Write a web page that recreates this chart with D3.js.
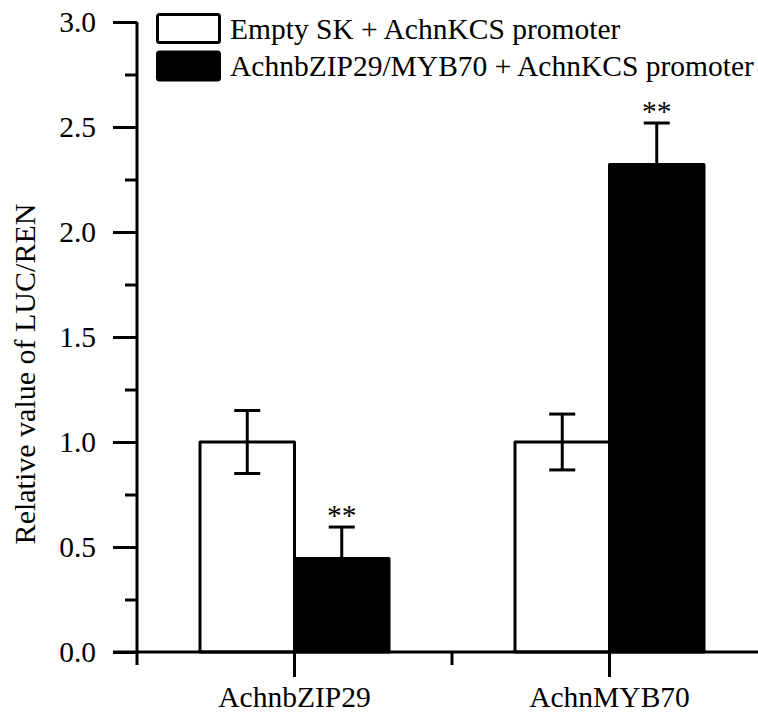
<!DOCTYPE html>
<html>
  <head>
    <meta charset="utf-8">
    <script src="https://d3js.org/d3.v7.min.js"></script>
    <title>LUC/REN bar chart</title>
    <style>
      body { margin: 0px; background: #fff; }
      text { font-family: "Liberation Serif", "Times New Roman", serif; fill: #000; }
      .tick line, .axis-line { stroke: #000; stroke-width: 3; }
      .tick text { font-size: 29.5px; }
    </style>
  </head>
  <body>
    <svg width="758" height="714"></svg>
    <script>
      // data
      const categories = ['AchnbZIP29', 'AchnMYB70'];
      const series = ['Empty SK + AchnKCS promoter', 'AchnbZIP29/MYB70 + AchnKCS promoter'];
      const seriesFill = ['#fff', '#000'];
      const emptyValues = [1.0, 1.0];
      const emptyErrors = [0.15, 0.133];
      const effectorValues = [0.445, 2.322];
      const effectorErrors = [0.15, 0.197];
      const signif = ['**', '**'];
      const yTicks = [0, 0.5, 1.0, 1.5, 2.0, 2.5, 3.0];
      const yMinorTicks = [0.25, 0.75, 1.25, 1.75, 2.25, 2.75];
      const yLabel = 'Relative value of LUC/REN';

      const svg = d3.select('svg');
      const width = +svg.attr('width');
      const margin = { left: 137, top: 22, bottom: 62 };
      const plotBottom = 652;

      const yScale = d3.scaleLinear().domain([0, 3]).range([plotBottom, margin.top]);
      const xScale = d3.scaleBand().domain(categories).range([margin.left, margin.left + 630]);
      const barW = 94.5;

      const data = [];
      categories.forEach((c, i) => {
        data.push({ cat: c, s: 0, v: emptyValues[i], e: emptyErrors[i] });
        data.push({ cat: c, s: 1, v: effectorValues[i], e: effectorErrors[i], star: signif[i] });
      });
      const subX = c => d3.scaleBand().domain([0, 1])
        .range([xScale(c) + xScale.bandwidth() / 2 - barW, xScale(c) + xScale.bandwidth() / 2 + barW]);

      // bars
      svg.append('g').selectAll('rect').data(data)
        .enter().append('rect')
          .attr('x', d => subX(d.cat)(d.s))
          .attr('y', d => yScale(d.v))
          .attr('width', barW)
          .attr('height', d => yScale(0) - yScale(d.v))
          .attr('fill', d => seriesFill[d.s])
          .attr('stroke', '#000')
          .attr('stroke-width', 3)
          .attr('stroke-linejoin', 'round');

      // error bars
      const errG = svg.append('g').attr('stroke', '#000').attr('stroke-width', 3);
      data.forEach(d => {
        const cx = subX(d.cat)(d.s) + barW / 2;
        const lo = d.s === 0 ? d.v - d.e : d.v;
        errG.append('line')
          .attr('x1', cx).attr('x2', cx)
          .attr('y1', yScale(lo)).attr('y2', yScale(d.v + d.e));
        errG.append('line')
          .attr('x1', cx - 13).attr('x2', cx + 13)
          .attr('y1', yScale(d.v + d.e)).attr('y2', yScale(d.v + d.e));
        if (d.s === 0) {
          errG.append('line')
            .attr('x1', cx - 13).attr('x2', cx + 13)
            .attr('y1', yScale(d.v - d.e)).attr('y2', yScale(d.v - d.e));
        }
        if (d.star) {
          svg.append('text')
            .attr('x', cx)
            .attr('y', yScale(d.v + d.e) - 2)
            .attr('text-anchor', 'middle')
            .style('font-size', '29.5px')
            .text(d.star);
        }
      });

      // y axis
      const yAxisG = svg.append('g').attr('transform', `translate(${margin.left},0)`);
      yAxisG.call(d3.axisLeft(yScale).tickValues(yTicks).tickSize(24).tickSizeOuter(0)
        .tickPadding(17).tickFormat(d3.format('.1f')));
      yAxisG.append('g').call(d3.axisLeft(yScale).tickValues(yMinorTicks).tickSize(12)
        .tickSizeOuter(0).tickFormat(''));
      yAxisG.selectAll('.domain').remove();
      svg.append('line').attr('class', 'axis-line')
        .attr('x1', margin.left).attr('x2', margin.left)
        .attr('y1', yScale(3)).attr('y2', plotBottom + 13);

      // x axis
      const xAxisG = svg.append('g').attr('transform', `translate(0,${plotBottom})`);
      xAxisG.call(d3.axisBottom(xScale).tickSize(25).tickSizeOuter(0).tickPadding(9));
      xAxisG.selectAll('.domain').remove();
      xAxisG.selectAll('.tick line').attr('stroke-width', 3);
      xAxisG.selectAll('.minor').data(categories.slice(1))
        .enter().append('line')
          .attr('class', 'axis-line')
          .attr('x1', d => xScale(d)).attr('x2', d => xScale(d))
          .attr('y1', 0).attr('y2', 13);
      svg.append('line').attr('class', 'axis-line')
        .attr('x1', margin.left - 24).attr('x2', width)
        .attr('y1', plotBottom).attr('y2', plotBottom);

      // y label
      svg.append('text')
        .attr('transform', `translate(35,374) rotate(-90)`)
        .attr('text-anchor', 'middle')
        .style('font-size', '30px')
        .text(yLabel);

      // legend
      const legend = svg.append('g').attr('transform', 'translate(156,13)');
      series.forEach((s, i) => {
        const row = legend.append('g').attr('transform', `translate(0,${i * 37.5})`);
        row.append('rect')
          .attr('x', 1.5).attr('y', 1.5)
          .attr('width', 62).attr('height', 28)
          .attr('rx', 2)
          .attr('fill', seriesFill[i])
          .attr('stroke', '#000')
          .attr('stroke-width', 3);
        row.append('text')
          .attr('x', 74).attr('y', 25.5)
          .style('font-size', '29.5px')
          .text(s);
      });
    </script>
  </body>
</html>
